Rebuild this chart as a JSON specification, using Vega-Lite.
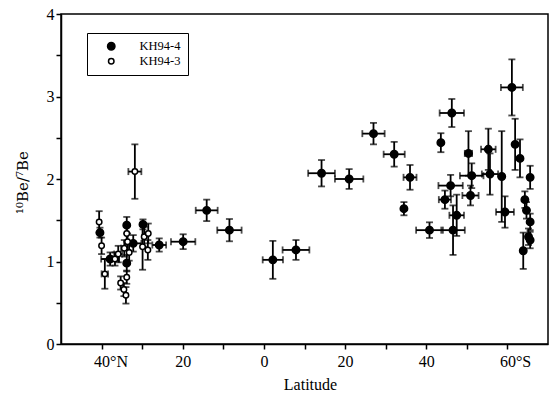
{
  "$schema": "https://vega.github.io/schema/vega-lite/v6.json",
  "width": 487,
  "height": 330,
  "autosize": {"type": "none"},
  "padding": {"left": 61, "top": 14, "right": 3, "bottom": 49},
  "config": {
    "view": {"stroke": "black", "strokeWidth": 1.5},
    "legend": {"orient": "none", "legendX": 26, "legendY": 19, "strokeColor": "black", "padding": 7, "labelFont": "Liberation Serif", "labelFontSize": 12.5, "labelColor": "black", "symbolStrokeWidth": 1.5, "symbolOffset": 11, "labelOffset": 22, "rowPadding": 2, "fillColor": "white"}
  },
  "data": {
    "values": [
      {"series": "KH94-4", "lat": -19.9, "val": 1.24, "latErr": 3, "valErr": 0.09},
      {"series": "KH94-4", "lat": -14.1, "val": 1.62, "latErr": 2.7, "valErr": 0.13},
      {"series": "KH94-4", "lat": -8.5, "val": 1.38, "latErr": 3, "valErr": 0.135},
      {"series": "KH94-4", "lat": 2.2, "val": 1.02, "latErr": 2.5, "valErr": 0.23},
      {"series": "KH94-4", "lat": 7.9, "val": 1.14, "latErr": 3.3, "valErr": 0.12},
      {"series": "KH94-4", "lat": 14.2, "val": 2.07, "latErr": 3.3, "valErr": 0.16},
      {"series": "KH94-4", "lat": 21.0, "val": 2.0, "latErr": 3.5, "valErr": 0.12},
      {"series": "KH94-4", "lat": 27.0, "val": 2.55, "latErr": 2.75, "valErr": 0.13},
      {"series": "KH94-4", "lat": 32.1, "val": 2.30, "latErr": 2.6, "valErr": 0.15},
      {"series": "KH94-4", "lat": 34.5, "val": 1.64, "latErr": 0, "valErr": 0.08},
      {"series": "KH94-4", "lat": 36.0, "val": 2.02, "latErr": 1.6, "valErr": 0.15},
      {"series": "KH94-4", "lat": 40.8, "val": 1.38, "latErr": 3.3, "valErr": 0.095},
      {"series": "KH94-4", "lat": 43.6, "val": 2.44, "latErr": 0, "valErr": 0.115},
      {"series": "KH94-4", "lat": 44.6, "val": 1.75, "latErr": 1.5, "valErr": 0.11},
      {"series": "KH94-4", "lat": 46.0, "val": 1.92, "latErr": 3, "valErr": 0.13},
      {"series": "KH94-4", "lat": 46.3, "val": 2.80, "latErr": 3, "valErr": 0.17},
      {"series": "KH94-4", "lat": 46.6, "val": 1.38, "latErr": 2.9, "valErr": 0.3},
      {"series": "KH94-4", "lat": 47.5, "val": 1.56, "latErr": 1.8, "valErr": 0.25},
      {"series": "KH94-4", "lat": 50.4, "val": 2.31, "latErr": 0.9, "valErr": 0.27},
      {"series": "KH94-4", "lat": 50.9, "val": 1.80, "latErr": 2, "valErr": 0.12},
      {"series": "KH94-4", "lat": 51.2, "val": 2.04, "latErr": 2.9, "valErr": 0.15},
      {"series": "KH94-4", "lat": 55.3, "val": 2.36, "latErr": 1.8, "valErr": 0.25},
      {"series": "KH94-4", "lat": 55.7, "val": 2.06, "latErr": 2, "valErr": 0.25},
      {"series": "KH94-4", "lat": 58.6, "val": 2.03, "latErr": 0, "valErr": 0.55},
      {"series": "KH94-4", "lat": 59.4, "val": 1.60, "latErr": 2.2, "valErr": 0.19},
      {"series": "KH94-4", "lat": 61.1, "val": 3.11, "latErr": 2.7, "valErr": 0.34},
      {"series": "KH94-4", "lat": 61.9, "val": 2.42, "latErr": 0, "valErr": 0.31},
      {"series": "KH94-4", "lat": 63.1, "val": 2.25, "latErr": 0, "valErr": 0.23},
      {"series": "KH94-4", "lat": 65.6, "val": 2.02, "latErr": 0, "valErr": 0.14},
      {"series": "KH94-4", "lat": 64.3, "val": 1.75, "latErr": 0, "valErr": 0.1},
      {"series": "KH94-4", "lat": 64.7, "val": 1.62, "latErr": 0, "valErr": 0.1},
      {"series": "KH94-4", "lat": 65.6, "val": 1.48, "latErr": 0, "valErr": 0.1},
      {"series": "KH94-4", "lat": 65.2, "val": 1.30, "latErr": 0, "valErr": 0.1},
      {"series": "KH94-4", "lat": 65.6, "val": 1.26, "latErr": 0, "valErr": 0.1},
      {"series": "KH94-4", "lat": 63.9, "val": 1.13, "latErr": 0, "valErr": 0.22},
      {"series": "KH94-4", "lat": -40.4, "val": 1.35, "latErr": 0, "valErr": 0.06},
      {"series": "KH94-4", "lat": -37.9, "val": 1.03, "latErr": 2.2, "valErr": 0.08},
      {"series": "KH94-4", "lat": -33.8, "val": 0.98, "latErr": 0, "valErr": 0.1},
      {"series": "KH94-4", "lat": -33.8, "val": 1.44, "latErr": 0, "valErr": 0.1},
      {"series": "KH94-4", "lat": -32.2, "val": 1.22, "latErr": 2, "valErr": 0.1},
      {"series": "KH94-4", "lat": -25.8, "val": 1.20, "latErr": 1.7, "valErr": 0.08},
      {"series": "KH94-4", "lat": -29.8, "val": 1.45, "latErr": 0, "valErr": 0.06},
      {"series": "KH94-3", "lat": -40.6, "val": 1.48, "latErr": 0, "valErr": 0.13},
      {"series": "KH94-3", "lat": -40.0, "val": 1.19, "latErr": 0, "valErr": 0.1},
      {"series": "KH94-3", "lat": -39.2, "val": 0.85, "latErr": 0.8, "valErr": 0.18},
      {"series": "KH94-3", "lat": -36.7, "val": 1.03, "latErr": 1, "valErr": 0.08},
      {"series": "KH94-3", "lat": -35.9, "val": 1.09, "latErr": 1, "valErr": 0.1},
      {"series": "KH94-3", "lat": -35.3, "val": 0.74, "latErr": 0, "valErr": 0.08},
      {"series": "KH94-3", "lat": -34.5, "val": 0.66, "latErr": 0, "valErr": 0.08},
      {"series": "KH94-3", "lat": -34.0, "val": 0.59, "latErr": 0, "valErr": 0.1},
      {"series": "KH94-3", "lat": -33.8, "val": 0.81, "latErr": 0, "valErr": 0.08},
      {"series": "KH94-3", "lat": -33.8, "val": 1.34, "latErr": 0, "valErr": 0.1},
      {"series": "KH94-3", "lat": -34.4, "val": 1.16, "latErr": 0.8, "valErr": 0.1},
      {"series": "KH94-3", "lat": -33.2, "val": 1.11, "latErr": 0, "valErr": 0.1},
      {"series": "KH94-3", "lat": -33.6, "val": 1.24, "latErr": 0, "valErr": 0.1},
      {"series": "KH94-3", "lat": -29.9, "val": 1.18, "latErr": 0, "valErr": 0.28},
      {"series": "KH94-3", "lat": -29.5, "val": 1.30, "latErr": 0, "valErr": 0.12},
      {"series": "KH94-3", "lat": -28.5, "val": 1.34, "latErr": 0, "valErr": 0.12},
      {"series": "KH94-3", "lat": -28.6, "val": 1.14, "latErr": 0, "valErr": 0.12},
      {"series": "KH94-3", "lat": -31.8, "val": 2.09, "latErr": 1.6, "valErr": 0.33}
    ]
  },
  "layer": [
    {
      "transform": [{"filter": "datum.latErr > 0"}],
      "mark": {"type": "errorbar", "ticks": true, "size": 7, "thickness": 1.8, "color": "black"},
      "encoding": {
        "x": {"field": "lat", "type": "quantitative", "scale": {"domain": [-50, 70], "nice": false, "zero": false}, "axis": {"grid": false, "values": [-40, -30, -20, -10, 0, 10, 20, 30, 40, 50, 60], "labelExpr": "datum.value == -40 ? '40°N' : datum.value == 60 ? '60°S' : (datum.value % 20 == 0 ? '' + abs(datum.value) : '')", "labelAlign": {"condition": {"test": "datum.value == -40 || datum.value == 60", "value": "left"}, "value": "center"}, "labelOffset": {"condition": {"test": "datum.value == -40 || datum.value == 60", "value": -8}, "value": 0}, "tickColor": "black", "tickWidth": 1.5, "tickSize": 5, "domainColor": "black", "domainWidth": 1.5, "labelPadding": 4, "labelFont": "Liberation Serif", "labelFontSize": 16, "labelColor": "black", "title": "Latitude", "titleFont": "Liberation Serif", "titleFontSize": 16, "titleFontWeight": "normal", "titleColor": "black", "titleX": 249, "titleY": 45, "titleBaseline": "alphabetic", "titleAnchor": "middle"}},
        "xError": {"field": "latErr"},
        "y": {"field": "val", "type": "quantitative", "scale": {"domain": [0, 4], "nice": false}, "axis": {"grid": false, "values": [0, 0.5, 1, 1.5, 2, 2.5, 3, 3.5, 4], "labelExpr": "datum.value % 1 == 0 ? '' + datum.value : ''", "tickColor": "black", "tickWidth": 1.5, "tickSize": 5, "domainColor": "black", "domainWidth": 1.5, "labelPadding": 2, "labelFont": "Liberation Serif", "labelFontSize": 16, "labelColor": "black", "title": "¹⁰Be/⁷Be", "titleFont": "DejaVu Serif", "titleFontSize": 15, "titleFontWeight": "normal", "titleColor": "black", "titleX": -39, "titleY": 168, "titleAngle": -90, "titleAlign": "center", "titleBaseline": "middle"}}
      }
    },
    {
      "mark": {"type": "errorbar", "ticks": true, "size": 7, "thickness": 1.8, "color": "black"},
      "encoding": {
        "x": {"field": "lat", "type": "quantitative", "axis": {"grid": false, "values": [-40, -30, -20, -10, 0, 10, 20, 30, 40, 50, 60], "labelExpr": "datum.value == -40 ? '40°N' : datum.value == 60 ? '60°S' : (datum.value % 20 == 0 ? '' + abs(datum.value) : '')", "labelAlign": {"condition": {"test": "datum.value == -40 || datum.value == 60", "value": "left"}, "value": "center"}, "labelOffset": {"condition": {"test": "datum.value == -40 || datum.value == 60", "value": -8}, "value": 0}, "tickColor": "black", "tickWidth": 1.5, "tickSize": 5, "domainColor": "black", "domainWidth": 1.5, "labelPadding": 4, "labelFont": "Liberation Serif", "labelFontSize": 16, "labelColor": "black", "title": "Latitude", "titleFont": "Liberation Serif", "titleFontSize": 16, "titleFontWeight": "normal", "titleColor": "black", "titleX": 249, "titleY": 45, "titleBaseline": "alphabetic", "titleAnchor": "middle"}},
        "y": {"field": "val", "type": "quantitative", "axis": {"grid": false, "values": [0, 0.5, 1, 1.5, 2, 2.5, 3, 3.5, 4], "labelExpr": "datum.value % 1 == 0 ? '' + datum.value : ''", "tickColor": "black", "tickWidth": 1.5, "tickSize": 5, "domainColor": "black", "domainWidth": 1.5, "labelPadding": 2, "labelFont": "Liberation Serif", "labelFontSize": 16, "labelColor": "black", "title": "¹⁰Be/⁷Be", "titleFont": "DejaVu Serif", "titleFontSize": 15, "titleFontWeight": "normal", "titleColor": "black", "titleX": -39, "titleY": 168, "titleAngle": -90, "titleAlign": "center", "titleBaseline": "middle"}},
        "yError": {"field": "valErr"}
      }
    },
    {
      "mark": {"type": "circle", "strokeWidth": 1.5, "opacity": 1},
      "encoding": {
        "x": {"field": "lat", "type": "quantitative", "axis": {"grid": false, "values": [-40, -30, -20, -10, 0, 10, 20, 30, 40, 50, 60], "labelExpr": "datum.value == -40 ? '40°N' : datum.value == 60 ? '60°S' : (datum.value % 20 == 0 ? '' + abs(datum.value) : '')", "labelAlign": {"condition": {"test": "datum.value == -40 || datum.value == 60", "value": "left"}, "value": "center"}, "labelOffset": {"condition": {"test": "datum.value == -40 || datum.value == 60", "value": -8}, "value": 0}, "tickColor": "black", "tickWidth": 1.5, "tickSize": 5, "domainColor": "black", "domainWidth": 1.5, "labelPadding": 4, "labelFont": "Liberation Serif", "labelFontSize": 16, "labelColor": "black", "title": "Latitude", "titleFont": "Liberation Serif", "titleFontSize": 16, "titleFontWeight": "normal", "titleColor": "black", "titleX": 249, "titleY": 45, "titleBaseline": "alphabetic", "titleAnchor": "middle"}},
        "y": {"field": "val", "type": "quantitative", "axis": {"grid": false, "values": [0, 0.5, 1, 1.5, 2, 2.5, 3, 3.5, 4], "labelExpr": "datum.value % 1 == 0 ? '' + datum.value : ''", "tickColor": "black", "tickWidth": 1.5, "tickSize": 5, "domainColor": "black", "domainWidth": 1.5, "labelPadding": 2, "labelFont": "Liberation Serif", "labelFontSize": 16, "labelColor": "black", "title": "¹⁰Be/⁷Be", "titleFont": "DejaVu Serif", "titleFontSize": 15, "titleFontWeight": "normal", "titleColor": "black", "titleX": -39, "titleY": 168, "titleAngle": -90, "titleAlign": "center", "titleBaseline": "middle"}},
        "fill": {"field": "series", "type": "nominal", "scale": {"domain": ["KH94-4", "KH94-3"], "range": ["black", "white"]}, "legend": {"title": null, "symbolType": "circle"}},
        "stroke": {"field": "series", "type": "nominal", "scale": {"domain": ["KH94-4", "KH94-3"], "range": ["black", "black"]}, "legend": {"title": null, "symbolType": "circle"}},
        "size": {"field": "series", "type": "nominal", "scale": {"domain": ["KH94-4", "KH94-3"], "range": [55, 30]}, "legend": {"title": null, "symbolType": "circle"}}
      }
    }
  ]
}
